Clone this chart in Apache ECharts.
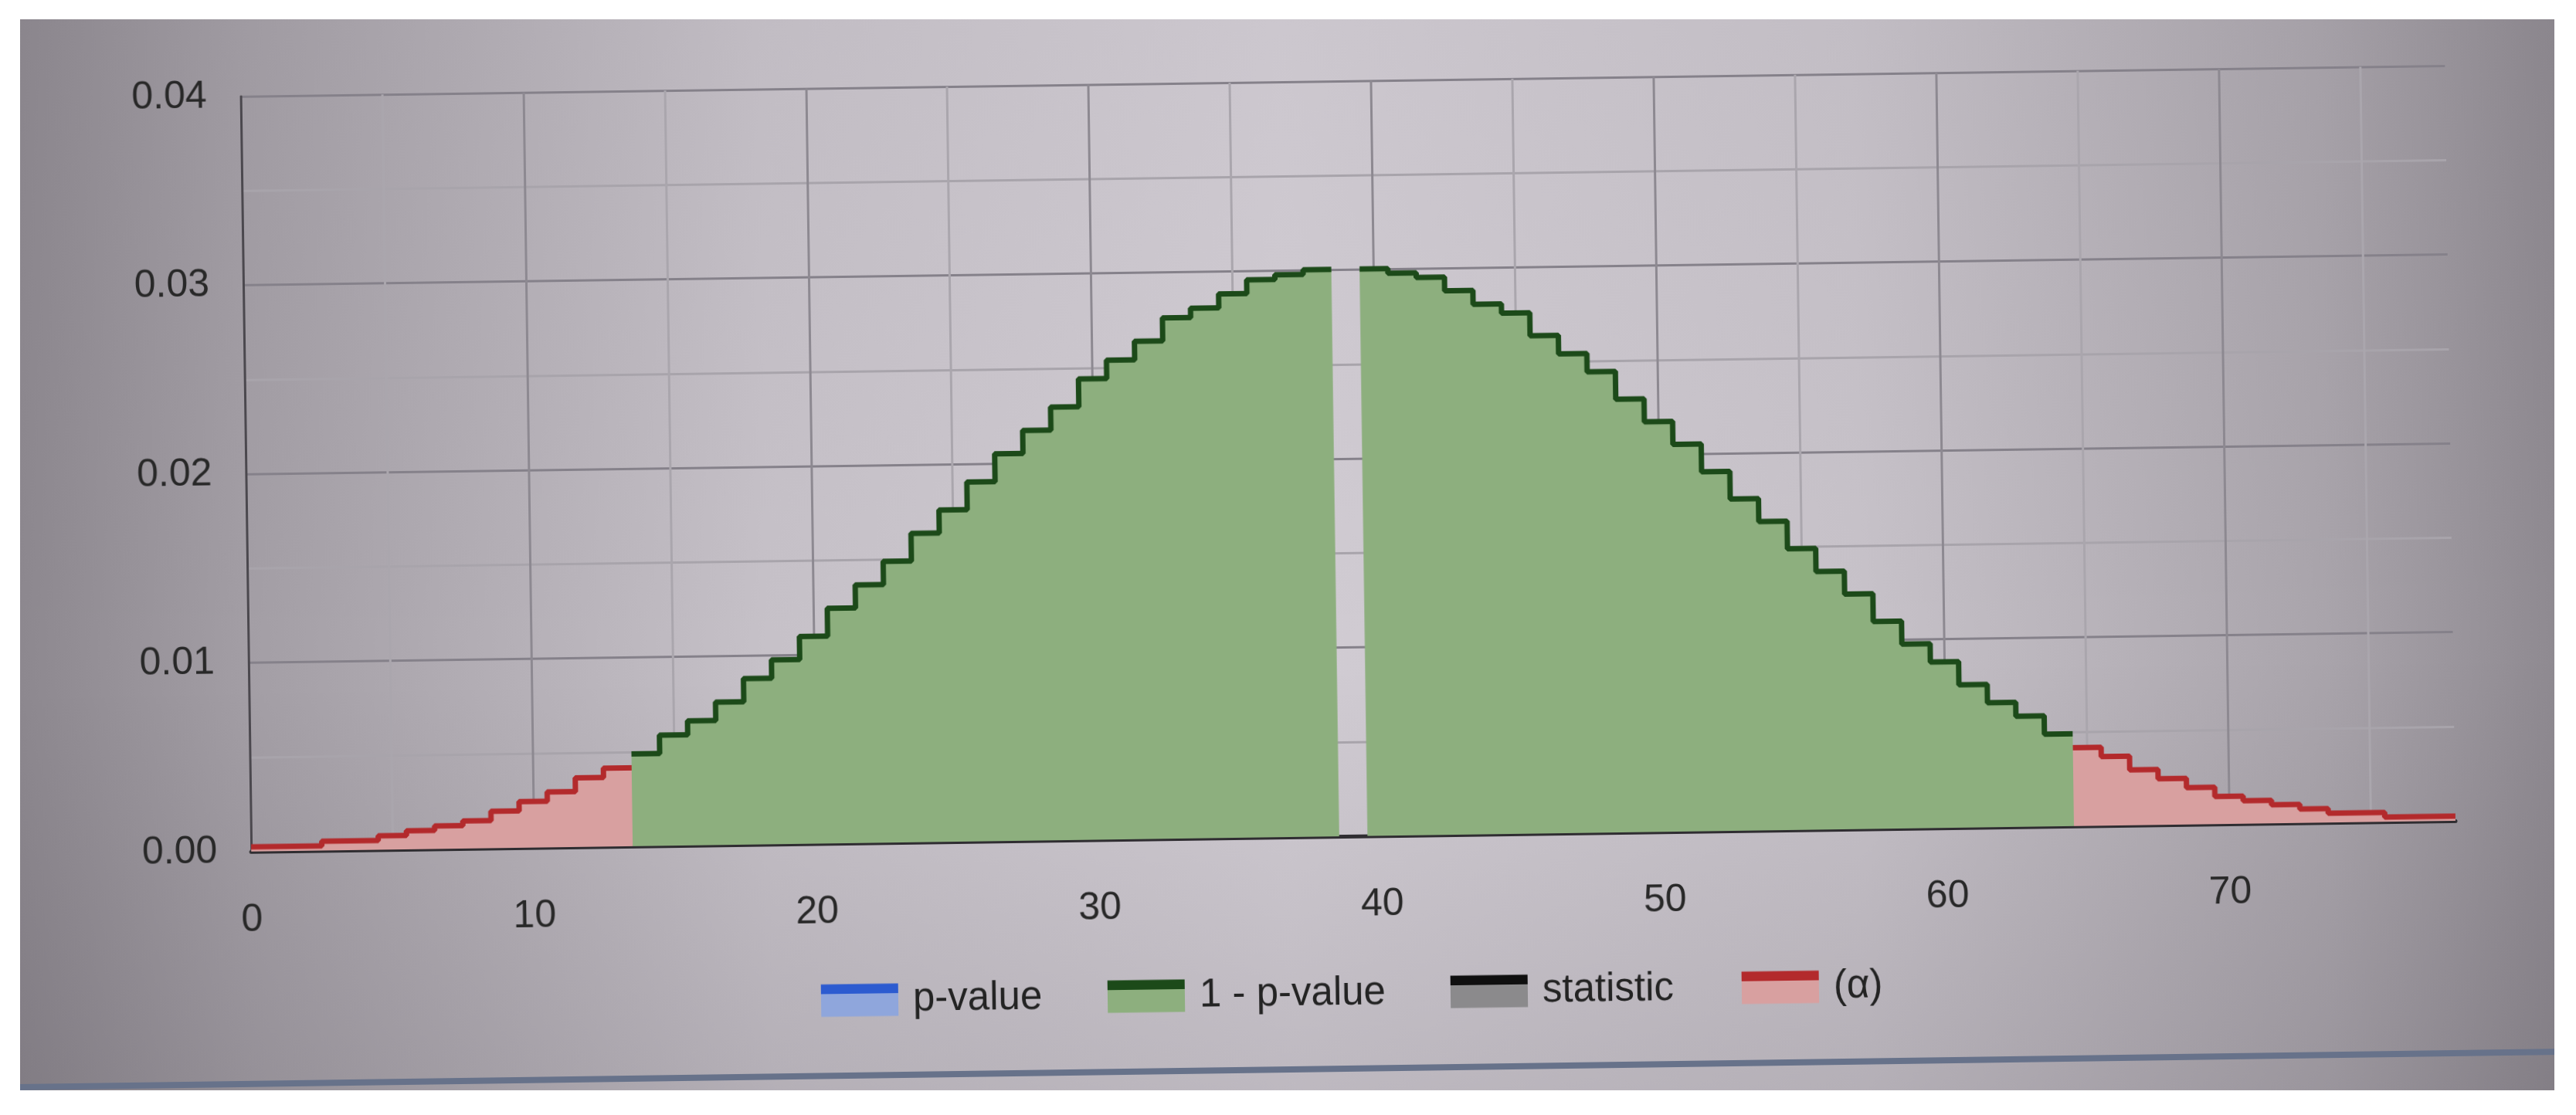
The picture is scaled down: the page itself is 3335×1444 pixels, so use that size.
<!DOCTYPE html>
<html>
<head>
<meta charset="utf-8">
<script src="https://cdn.jsdelivr.net/npm/echarts@6/dist/echarts.min.js"></script>
<style>
  html, body { margin: 0; padding: 0; background: #ffffff; }
  /* photo of a screen: grey area inside a white border, slightly tilted */
  #frame { position: absolute; left: 26px; top: 25px; width: 3281px; height: 1387px; overflow: hidden; background: #a8a3aa; }
  #main { position: absolute; left: -40px; top: -40px; width: 3361px; height: 1467px; transform: rotate(-0.8deg); }
</style>
</head>
<body>
<div id="frame"><div id="main"></div></div>
<script>
// statistic values (x) and probability of each value (y)
var xValues = [0, 1, 2, 3, 4, 5, 6, 7, 8, 9, 10, 11, 12, 13, 14, 15, 16, 17, 18, 19,
	20, 21, 22, 23, 24, 25, 26, 27, 28, 29, 30, 31, 32, 33, 34, 35, 36, 37, 38, 39,
	40, 41, 42, 43, 44, 45, 46, 47, 48, 49, 50, 51, 52, 53, 54, 55, 56, 57, 58, 59,
	60, 61, 62, 63, 64, 65, 66, 67, 68, 69, 70, 71, 72, 73, 74, 75, 76, 77, 78];
var prob = [0.000244, 0.000244, 0.000244, 0.000488, 0.000488, 0.000732, 0.000977, 0.001221, 0.001465, 0.001953,
	0.002441, 0.00293, 0.003662, 0.00415, 0.004883, 0.005859, 0.006592, 0.007568, 0.008789, 0.009766,
	0.010986, 0.012451, 0.013672, 0.014893, 0.016357, 0.017578, 0.019043, 0.020508, 0.021729, 0.022949,
	0.024414, 0.025391, 0.026367, 0.027588, 0.028076, 0.028809, 0.029541, 0.029785, 0.030029, 0.030273,
	0.030029, 0.029785, 0.029541, 0.028809, 0.028076, 0.027588, 0.026367, 0.025391, 0.024414, 0.022949,
	0.021729, 0.020508, 0.019043, 0.017578, 0.016357, 0.014893, 0.013672, 0.012451, 0.010986, 0.009766,
	0.008789, 0.007568, 0.006592, 0.005859, 0.004883, 0.00415, 0.003662, 0.00293, 0.002441, 0.001953,
	0.001465, 0.001221, 0.000977, 0.000732, 0.000488, 0.000488, 0.000244, 0.000244, 0.000244];

var alphaLowEnd = 13;    // last bin of lower (α) tail
var alphaHighStart = 65; // first bin of upper (α) tail
var statistic = 39;      // bin left empty (statistic position)

var xMin = 0, xMax = 78;
var yMin = 0, yMax = 0.04;

var legendNames = ['p-value', '1 - p-value', 'statistic', '(α)'];
var legendLeft = [1069, 1440, 1884, 2261];
var lineColors = ['#2c5bd0', '#1c4a19', '#0f0f0f', '#b32a2c'];
var areaColors = ['#8fa6dc', '#8daf7e', '#8b8a8c', '#d8a0a0'];

var FONT = "'Liberation Sans', Arial, sans-serif";

// step points: every bin is held from k-0.5 to k+0.5
function stepPoints(from, to) {
	var pts = [];
	for (var k = from; k <= to; k++) {
		pts.push([Math.max(xMin, xValues[k] - 0.5), prob[k]]);
	}
	pts.push([Math.min(xMax, xValues[to] + 0.5), prob[to]]);
	return pts;
}

function stepSeries(idx, data) {
	return {
		name: legendNames[idx],
		type: 'line',
		step: 'end',
		symbol: 'none',
		data: data,
		color: lineColors[idx],
		lineStyle: { color: lineColors[idx], width: 7 },
		areaStyle: { color: areaColors[idx], opacity: 1 },
		z: 3
	};
}

function legendIcon(idx) {
	return {
		type: 'linear', x: 0, y: 0, x2: 0, y2: 1,
		colorStops: [
			{ offset: 0, color: lineColors[idx] },
			{ offset: 0.3, color: lineColors[idx] },
			{ offset: 0.3, color: areaColors[idx] },
			{ offset: 1, color: areaColors[idx] }
		]
	};
}

// one legend block per entry, placed like the original
var legends = legendNames.map(function (n, i) {
	return {
		left: legendLeft[i],
		top: 1277,
		padding: 0,
		icon: 'rect',
		itemWidth: 100,
		itemHeight: 42,
		textStyle: { fontSize: 51, color: '#232323', fontFamily: FONT, padding: [0, 0, 0, 14] },
		data: [{ name: n, itemStyle: { color: legendIcon(i) } }]
	};
});

// split line colours: major / minor alternate, the line at the axis max is hidden
var xSplitColors = [];
for (var i = 0; i <= 16; i++) {
	xSplitColors.push(i == 16 ? 'rgba(0,0,0,0)' : (i % 2 == 0 ? '#8d8991' : '#aaa6ad'));
}

var myChart = echarts.init(document.getElementById('main'));

var option = {
	animation: false,
	backgroundColor: {
		type: 'linear', x: 0, y: 0, x2: 1, y2: 0,
		colorStops: [
			{ offset: 0, color: '#8a858c' },
			{ offset: 0.1, color: '#a39ea5' },
			{ offset: 0.3, color: '#c6c1c8' },
			{ offset: 0.5, color: '#d1ccd3' },
			{ offset: 0.72, color: '#c7c2c9' },
			{ offset: 0.9, color: '#a9a4ab' },
			{ offset: 1, color: '#8b868d' }
		]
	},
	textStyle: { fontFamily: FONT },
	graphic: [
		{
			type: 'rect', z: -100, silent: true,
			shape: { x: 0, y: 0, width: 3361, height: 1467 },
			style: {
				fill: {
					type: 'linear', x: 0, y: 0, x2: 0, y2: 1,
					colorStops: [
						{ offset: 0, color: 'rgba(40,35,45,0.03)' },
						{ offset: 0.6, color: 'rgba(40,35,45,0)' },
						{ offset: 1, color: 'rgba(40,35,45,0.12)' }
					]
				}
			}
		},
		{
			type: 'line', silent: true,
			shape: { x1: 0, y1: 1400, x2: 3361, y2: 1400 },
			style: { stroke: '#67728a', lineWidth: 8 }
		}
	],
	grid: {
		left: 334,
		right: 173,
		top: 121,
		bottom: 368,
		containLabel: false,
		outerBoundsMode: 'none'
	},
	legend: legends,
	xAxis: {
		type: 'value',
		min: xMin,
		max: xMax,
		interval: 5,
		axisLine: { show: true, onZero: false, lineStyle: { color: '#2f2d31', width: 5 } },
		axisTick: { show: false },
		axisLabel: {
			margin: 64,
			fontSize: 50,
			color: '#282828',
			fontFamily: FONT,
			formatter: function (v) {
				return (v % 10 === 0 && v <= 70) ? String(v) : '';
			}
		},
		splitLine: { show: true, lineStyle: { color: xSplitColors, width: 3 } }
	},
	yAxis: {
		type: 'value',
		min: yMin,
		max: yMax,
		interval: 0.005,
		axisLine: { show: true, lineStyle: { color: '#4b484e', width: 3 } },
		axisTick: { show: false },
		axisLabel: {
			margin: 44,
			fontSize: 50,
			color: '#282828',
			fontFamily: FONT,
			formatter: function (v) {
				return (Math.round(v * 1000) % 10 === 0) ? v.toFixed(2) : '';
			}
		},
		splitLine: { show: true, lineStyle: { color: ['#85818a', '#a8a4ab'], width: 3 } }
	},
	series: [
		{ name: 'p-value', type: 'line', data: [], color: lineColors[0] },
		stepSeries(3, stepPoints(0, alphaLowEnd)),
		stepSeries(1, stepPoints(alphaLowEnd + 1, statistic - 1)),
		stepSeries(1, stepPoints(statistic + 1, alphaHighStart - 1)),
		stepSeries(3, stepPoints(alphaHighStart, xValues.length - 1)),
		{ name: 'statistic', type: 'line', data: [], color: lineColors[2] }
	]
};

myChart.setOption(option);
</script>
</body>
</html>
